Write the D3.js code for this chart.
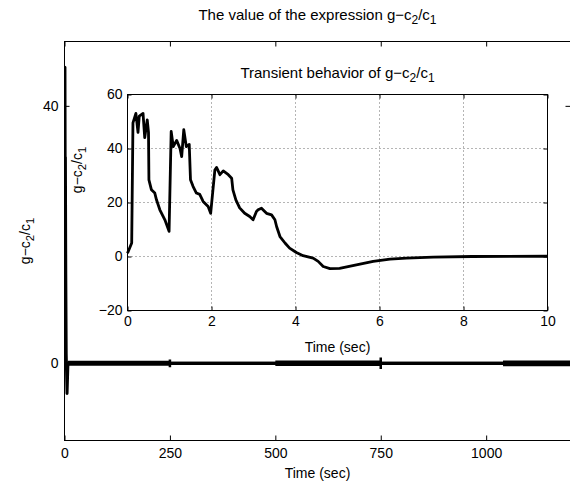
<!DOCTYPE html>
<html>
<head>
<meta charset="utf-8">
<script src="https://cdn.jsdelivr.net/npm/d3@7"></script>
<style>
body { margin: 0; background: #fff; }
svg { font-family: "Liberation Sans", Arial, Helvetica, sans-serif; }
</style>
</head>
<body>
<svg></svg>
<script>
var screen = {width: 570, height: 482};

// main plot data (whole run, coarse)
var mainTime  = [0, 0.15, 0.5, 1, 1.05, 2, 2.1, 3, 4, 6, 8, 10, 1200];
var mainValue = [0, 46, 46, 9, 46, 16, 32, 14, 1.5, -4.7, -0.3, 0, 0];

// steady-state noise band around zero: segment start, end, half width
var bandStart = [7, 247, 253, 500, 747, 753, 1040];
var bandEnd   = [247, 253, 500, 747, 753, 1040, 1200];
var bandHalf  = [0.4, 0.6, 0.25, 0.42, 0.9, 0.25, 0.45];

// transient (first 10 s)
var insetTime  = [0, 0.1, 0.13, 0.2, 0.25, 0.28, 0.37, 0.41, 0.47, 0.5, 0.51, 0.57, 0.65, 0.69, 0.77, 0.89, 0.99,
                  1.04, 1.09, 1.17, 1.25, 1.29, 1.34, 1.4, 1.47, 1.5, 1.56, 1.64, 1.72, 1.8, 1.92, 1.98,
                  2.08, 2.12, 2.2, 2.28, 2.4, 2.48, 2.51, 2.58, 2.67, 2.79, 2.91, 2.99,
                  3.07, 3.11, 3.19, 3.31, 3.43, 3.51, 3.55, 3.63, 3.75, 3.86, 4.02, 4.18, 4.42, 4.54, 4.66, 4.82,
                  5.05, 5.45, 5.85, 6.25, 6.64, 7.28, 8.2, 10];
var insetValue = [1.2, 5, 49.5, 53, 46, 52, 53, 44, 50.6, 46, 28.4, 24.7, 23.5, 21, 17.3, 13.6, 9.3,
                  46.3, 40.7, 43, 40, 37, 47, 40.7, 41.5, 28.4, 26, 23.5, 23, 20.4, 18.5, 16,
                  32, 33, 30.3, 31.7, 30.3, 29, 24.7, 21, 18, 16, 14.8, 13.6,
                  16.7, 17.3, 17.9, 16, 15.4, 13.6, 11.1, 7.4, 5, 3.1, 1.5, 0.3, -0.6, -1.8, -3.7, -4.5,
                  -4.4, -3.1, -1.8, -1, -0.6, -0.2, 0, 0.1];

var mainXTicks = [0, 250, 500, 750, 1000];
var mainYTicks = [0, 40];
var insetXTicks = [0, 2, 4, 6, 8, 10];
var insetYTicks = [-20, 0, 20, 40, 60];

var svg = d3.select("svg")
    .attr("width", screen.width)
    .attr("height", screen.height);

var main = {left: 64.5, right: 570.5, top: 41.5, bottom: 440.5};
var inset = {left: 127.5, right: 547.5, top: 94.5, bottom: 310.5};

var x = d3.scaleLinear().domain([0, 1200]).range([main.left, main.right]);
var y = d3.scaleLinear().domain([-12, 50]).range([main.bottom, main.top]);
var xi = d3.scaleLinear().domain([0, 10]).range([inset.left, inset.right]);
var yi = d3.scaleLinear().domain([-20, 60]).range([inset.bottom, inset.top]);

// subscripted label g-c2/c1
var addExpr = function(sel, prefix)
{
    sel.append("tspan").text(prefix + "g\u2212c");
    sel.append("tspan").attr("dy", 4).attr("font-size", "0.8em").text("2");
    sel.append("tspan").attr("dy", -4).text("/c");
    sel.append("tspan").attr("dy", 4).attr("font-size", "0.8em").text("1");
}

svg.append("defs").append("clipPath").attr("id", "mainClip")
    .append("rect")
    .attr("x", main.left).attr("y", main.top)
    .attr("width", main.right - main.left).attr("height", main.bottom - main.top);

// ----- main axes -----
var bandPts = [];
bandStart.forEach(function(s, i)
{
    bandPts.push({t: s, h: bandHalf[i]});
    bandPts.push({t: bandEnd[i], h: bandHalf[i]});
});

var band = d3.area()
    .x(function(d){return x(d.t);})
    .y0(function(d){return y(-d.h);})
    .y1(function(d){return y(d.h);});

var g = svg.append("g").attr("clip-path", "url(#mainClip)");

g.append("path")
    .datum(bandPts)
    .attr("d", band)
    .attr("fill", "black");

g.append("path")
    .datum(mainTime)
    .attr("d", d3.line()
        .x(function(d){return x(d);})
        .y(function(d, i){return y(mainValue[i]);}))
    .attr("fill", "none")
    .attr("stroke", "black")
    .attr("stroke-width", 3)
    .attr("stroke-linejoin", "round");

svg.append("rect")
    .attr("x", main.left).attr("y", main.top)
    .attr("width", main.right - main.left).attr("height", main.bottom - main.top)
    .attr("fill", "none").attr("stroke", "black").attr("stroke-width", 1);

var tickFont = function(sel)
{
    sel.select(".domain").remove();
    sel.selectAll("text").attr("font-size", 14).attr("fill", "black")
        .attr("font-family", "Liberation Sans, Arial, sans-serif");
    sel.selectAll("line").attr("stroke", "black");
}

svg.append("g")
    .attr("transform", "translate(0," + main.bottom + ")")
    .call(d3.axisBottom(x).tickValues(mainXTicks).tickSize(-5).tickPadding(8).tickFormat(d3.format("d")))
    .call(tickFont);

svg.append("g")
    .attr("transform", "translate(0," + main.top + ")")
    .call(d3.axisTop(x).tickValues(mainXTicks).tickSize(-5).tickFormat(""))
    .call(tickFont);

svg.append("g")
    .attr("transform", "translate(" + main.left + ",0)")
    .call(d3.axisLeft(y).tickValues(mainYTicks).tickSize(-5).tickPadding(6))
    .call(tickFont);

svg.append("g")
    .attr("transform", "translate(" + main.right + ",0)")
    .call(d3.axisRight(y).tickValues(mainYTicks).tickSize(-5).tickFormat(""))
    .call(tickFont);

svg.append("text")
    .attr("x", (main.left + main.right) / 2).attr("y", 20)
    .attr("text-anchor", "middle").attr("font-size", 15)
    .call(addExpr, "The value of the expression ");

svg.append("text")
    .attr("x", (main.left + main.right) / 2).attr("y", 478)
    .attr("text-anchor", "middle").attr("font-size", 14)
    .text("Time (sec)");

svg.append("text")
    .attr("transform", "translate(30," + ((main.top + main.bottom) / 2) + ") rotate(-90)")
    .attr("text-anchor", "middle").attr("font-size", 14)
    .call(addExpr, "");

// ----- inset axes -----
svg.append("rect")
    .attr("x", inset.left).attr("y", inset.top)
    .attr("width", inset.right - inset.left).attr("height", inset.bottom - inset.top)
    .attr("fill", "white");

var grid = svg.append("g")
    .attr("stroke", "#444").attr("stroke-width", 0.8).attr("stroke-dasharray", "1,3");

grid.selectAll(".gx")
    .data(insetXTicks.slice(1, -1))
    .enter().append("line")
    .attr("x1", function(d){return xi(d);}).attr("x2", function(d){return xi(d);})
    .attr("y1", inset.top).attr("y2", inset.bottom);

grid.selectAll(".gy")
    .data(insetYTicks.slice(1, -1))
    .enter().append("line")
    .attr("y1", function(d){return yi(d);}).attr("y2", function(d){return yi(d);})
    .attr("x1", inset.left).attr("x2", inset.right);

svg.append("path")
    .datum(insetTime)
    .attr("d", d3.line()
        .x(function(d){return xi(d);})
        .y(function(d, i){return yi(insetValue[i]);}))
    .attr("fill", "none")
    .attr("stroke", "black")
    .attr("stroke-width", 2.8)
    .attr("stroke-linejoin", "round");

svg.append("rect")
    .attr("x", inset.left).attr("y", inset.top)
    .attr("width", inset.right - inset.left).attr("height", inset.bottom - inset.top)
    .attr("fill", "none").attr("stroke", "black").attr("stroke-width", 1);

svg.append("g")
    .attr("transform", "translate(0," + inset.bottom + ")")
    .call(d3.axisBottom(xi).tickValues(insetXTicks).tickSize(-4).tickPadding(6))
    .call(tickFont);

svg.append("g")
    .attr("transform", "translate(0," + inset.top + ")")
    .call(d3.axisTop(xi).tickValues(insetXTicks).tickSize(-4).tickFormat(""))
    .call(tickFont);

svg.append("g")
    .attr("transform", "translate(" + inset.left + ",0)")
    .call(d3.axisLeft(yi).tickValues(insetYTicks).tickSize(-4).tickPadding(5))
    .call(tickFont);

svg.append("g")
    .attr("transform", "translate(" + inset.right + ",0)")
    .call(d3.axisRight(yi).tickValues(insetYTicks).tickSize(-4).tickFormat(""))
    .call(tickFont);

svg.append("text")
    .attr("x", (inset.left + inset.right) / 2).attr("y", 78)
    .attr("text-anchor", "middle").attr("font-size", 15)
    .call(addExpr, "Transient behavior of ");

svg.append("text")
    .attr("x", (inset.left + inset.right) / 2).attr("y", 352)
    .attr("text-anchor", "middle").attr("font-size", 14)
    .text("Time (sec)");

svg.append("text")
    .attr("transform", "translate(82,170) rotate(-90)")
    .attr("text-anchor", "middle").attr("font-size", 14)
    .call(addExpr, "");
</script>
</body>
</html>
